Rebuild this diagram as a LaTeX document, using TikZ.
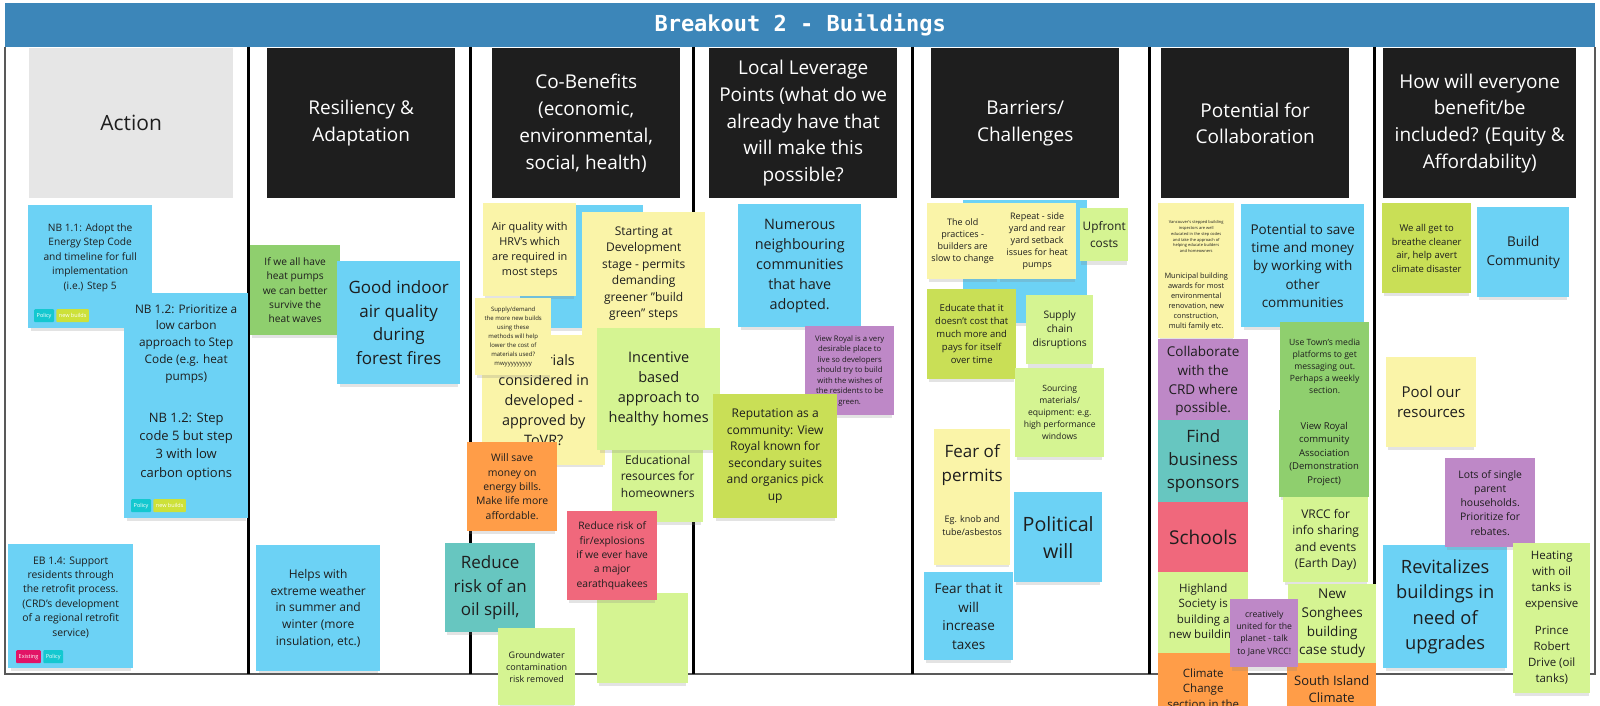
\documentclass[tikz,border=0pt]{standalone}
\usepackage{fontspec}
\setmainfont{Open Sans}
\newfontfamily\titlefont{DejaVu Sans Mono}
\usetikzlibrary{positioning, shadows}

\definecolor{boardblue}{RGB}{60,134,185}
\definecolor{headdark}{RGB}{30,30,30}
\definecolor{actiongray}{RGB}{230,230,230}
\definecolor{notetext}{RGB}{30,30,30}
\definecolor{nblue}{RGB}{108,210,245}
\definecolor{nyellow}{RGB}{250,244,168}
\definecolor{nlight}{RGB}{213,244,146}
\definecolor{nlime}{RGB}{201,223,86}
\definecolor{ngreen}{RGB}{143,207,110}
\definecolor{norange}{RGB}{255,157,72}
\definecolor{npink}{RGB}{240,104,124}
\definecolor{nviolet}{RGB}{190,136,199}
\definecolor{nteal}{RGB}{103,198,192}
\definecolor{tagteal}{RGB}{20,200,208}
\definecolor{taglime}{RGB}{205,225,57}
\definecolor{tagred}{RGB}{226,20,102}

\newcommand{\fsz}[2]{\fontsize{#1}{#2}\selectfont}

\begin{document}
\begin{tikzpicture}[x=1pt, y=-1pt,
    note/.style={fill=#1, anchor=north west, align=center, inner sep=1pt, text=notetext,
        drop shadow={shadow xshift=0pt, shadow yshift=-5pt, shadow scale=.96, opacity=.22}},
    tag/.style={fill=#1, anchor=north west, rounded corners=1pt, text=white, font=\fsz{5.5}{6},
        inner xsep=2.5pt, inner ysep=0pt, minimum height=13pt},
    colhead/.style={fill=headdark, anchor=north west, minimum width=188pt, minimum height=150pt,
        text=white, align=center, font=\fsz{19}{26.7}},
    divider/.style={line width=3pt, black},
    frame/.style={line width=1.4pt, black!65}]
        \useasboundingbox (0,0) rectangle (1600,706);
        \clip (0,0) rectangle (1600,706);

        % board
        \node[fill=boardblue, anchor=north west, minimum width=1590pt, minimum height=44pt,
            text=white, font=\titlefont\bfseries\fsz{22}{26}] (title) at (5,3) {Breakout 2 - Buildings};
        \draw[frame] (5,47) -- (5,674) -- (1595,674) -- (1595,47);
        \foreach \x in {248,470,693,912,1149,1374}
            \draw[divider] (\x,47) -- (\x,674);

        % column heads
        \node[colhead, fill=actiongray, text=notetext, minimum width=204pt, font=\fsz{21}{27}] (haction) at (29,48) {Action};
        \node[colhead] (hres) at (267,48) {Resiliency \&\\Adaptation};
        \node[colhead] (hcoben) at (492,48) {Co-Benefits\\(economic,\\environmental,\\social, health)};
        \node[colhead] (hlever) at (709,48) {Local Leverage\\Points (what do we\\already have that\\will make this\\possible?};
        \node[colhead] (hbarr) at (931,48) {Barriers/\\Challenges};
        \node[colhead] (hcollab) at (1161,48) {Potential for\\Collaboration};
        \node[colhead, minimum width=193pt] (hequity) at (1383,48) {How will everyone\\benefit/be\\included?  (Equity \&\\Affordability)};

        % Action
        \node[note=nblue, minimum width=124pt, minimum height=123pt] (nb11) at (28,205) {};
        \node[align=center, text=notetext, font=\fsz{10.2}{14.5}] (nb11txt) at ([yshift=9pt]nb11.center)
            {NB 1.1: Adopt the\\Energy Step Code\\and timeline for full\\implementation\\(i.e.) Step 5};
        \node[tag=tagteal] (nb11pol) at (34,309) {Policy};
        \node[tag=taglime, right=2pt of nb11pol] (nb11new) {new builds};
        \node[note=nblue, minimum width=124pt, minimum height=101pt, font=\fsz{11.8}{16.7}] (nb12) at (124,293)
            {NB 1.2: Prioritize a\\low carbon\\approach to Step\\Code (e.g. heat\\pumps)};
        \node[note=nblue, minimum width=124pt, minimum height=124pt] (nb12s) at (124,394) {};
        \node[align=center, text=notetext, font=\fsz{13}{18.3}] (nb12stxt) at ([yshift=9.5pt]nb12s.center)
            {NB 1.2: Step\\code 5 but step\\3 with low\\carbon options};
        \node[tag=tagteal] (nb12spol) at (131,499) {Policy};
        \node[tag=taglime, right=2pt of nb12spol] (nb12snew) {new builds};
        \node[note=nblue, minimum width=125pt, minimum height=124pt] (eb14) at (8,544) {};
        \node[align=center, text=notetext, font=\fsz{10.4}{14.4}] (eb14txt) at ([yshift=9pt]eb14.center)
            {EB 1.4: Support\\residents through\\the retrofit process.\\(CRD's development\\of a regional retrofit\\service)};
        \node[tag=tagred] (eb14ex) at (16,650) {Existing};
        \node[tag=tagteal, right=2pt of eb14ex] (eb14pol) {Policy};

        % Resiliency
        \node[note=ngreen, minimum width=90pt, minimum height=90pt, font=\fsz{10.2}{14.3}] (heatpump) at (250,245)
            {If we all have\\heat pumps\\we can better\\survive the\\heat waves};
        \node[note=nblue, minimum width=123pt, minimum height=123pt, font=\fsz{17}{23.5}] (indoorair) at (337,261)
            {Good indoor\\air quality\\during\\forest fires};
        \node[note=nblue, minimum width=124pt, minimum height=126pt, font=\fsz{12}{16.7}] (weather) at (256,545)
            {Helps with\\extreme weather\\in summer and\\winter (more\\insulation, etc.)};

        % Co-Benefits
        \node[note=nblue, minimum width=123pt, minimum height=123pt] (cbblue) at (520,205) {};
        \node[note=nyellow, minimum width=93pt, minimum height=93pt, font=\fsz{10.9}{15}] (airq) at (483,203)
            {Air quality with\\HRV's which\\are required in\\most steps};
        \node[note=nyellow, minimum width=123pt, minimum height=123pt, font=\fsz{12}{16.5}] (starting) at (582,212)
            {Starting at\\Development\\stage - permits\\demanding\\greener "build\\green" steps};
        \node[note=nyellow, minimum width=123pt, minimum height=130pt, font=\fsz{14.4}{20}] (materials) at (482,335)
            {Materials\\considered in\\developed -\\approved by\\ToVR?};
        \node[note=nyellow, minimum width=76pt, minimum height=77pt, font=\fsz{6}{9}] (supply) at (475,298)
            {Supply/demand\\the more new builds\\using these\\methods will help\\lower the cost of\\materials used?\\mwyyyyyyyyy};
        \node[note=nlight, minimum width=91pt, minimum height=92pt, font=\fsz{12}{16.3}] (educational) at (612,430)
            {Educational\\resources for\\homeowners};
        \node[note=nlight, minimum width=123pt, minimum height=122pt, font=\fsz{14.5}{20}] (incentive) at (597,328)
            {Incentive\\based\\approach to\\healthy homes};
        \node[note=norange, minimum width=90pt, minimum height=89pt, font=\fsz{10.4}{14.3}] (willsave) at (467,442)
            {Will save\\money on\\energy bills.\\Make life more\\affordable.};
        \node[note=nteal, minimum width=90pt, minimum height=89pt, font=\fsz{17}{23.3}] (oilspill) at (445,543)
            {Reduce\\risk of an\\oil spill,};
        \node[note=nlight, minimum width=77pt, minimum height=77pt, font=\fsz{9}{12}] (groundwater) at (498,628)
            {Groundwater\\contamination\\risk removed};
        \node[note=nlight, minimum width=91pt, minimum height=90pt] (blank) at (597,593) {};
        \node[note=npink, minimum width=90pt, minimum height=89pt, font=\fsz{10.3}{14.3}] (firrisk) at (567,511)
            {Reduce risk of\\fir/explosions\\if we ever have\\a major\\earathquakees};

        % Local Leverage
        \node[note=nblue, minimum width=123pt, minimum height=123pt, font=\fsz{14.4}{20}] (numerous) at (738,204)
            {Numerous\\neighbouring\\communities\\that have\\adopted.};
        \node[note=nviolet, minimum width=89pt, minimum height=89pt, font=\fsz{7.7}{10.5}] (viewroyal) at (805,326)
            {View Royal is a very\\desirable place to\\live so developers\\should try to build\\with the wishes of\\the residents to be\\green.};
        \node[note=nlime, minimum width=124pt, minimum height=124pt, font=\fsz{12}{16.5}] (reputation) at (713,394)
            {Reputation as a\\community: View\\Royal known for\\secondary suites\\and organics pick\\up};

        % Barriers
        \node[note=nblue, minimum width=124pt, minimum height=123pt] (barblue) at (963,200) {};
        \node[note=nyellow, minimum width=71pt, minimum height=76pt, font=\fsz{9}{12.3}] (oldpract) at (927,203)
            {The old\\practices -\\builders are\\slow to change};
        \node[note=nyellow, minimum width=78pt, minimum height=76pt, font=\fsz{9}{12}] (repeat) at (998,203)
            {Repeat - side\\yard and rear\\yard setback\\issues for heat\\pumps};
        \node[note=nlight, minimum width=48pt, minimum height=53pt, font=\fsz{11.8}{17}] (upfront) at (1080,208)
            {Upfront\\costs};
        \node[note=nlime, minimum width=89pt, minimum height=90pt, font=\fsz{9.5}{13}] (educate) at (927,289)
            {Educate that it\\doesn't cost that\\much more and\\pays for itself\\over time};
        \node[note=nlight, minimum width=67pt, minimum height=69pt, font=\fsz{10.3}{14}] (supplych) at (1026,295)
            {Supply\\chain\\disruptions};
        \node[note=nlight, minimum width=89pt, minimum height=89pt, font=\fsz{8.6}{12}] (sourcing) at (1015,368)
            {Sourcing\\materials/\\equipment: e.g.\\high performance\\windows};
        \node[note=nyellow, minimum width=76pt, minimum height=136pt] (fearpermit) at (934,429) {};
        \node[align=center, text=notetext, font=\fsz{17}{24}] (fearpermittxt) at ([yshift=32pt]fearpermit.center)
            {Fear of\\permits};
        \node[align=center, text=notetext, font=\fsz{9}{12.3}] (knobtxt) at ([yshift=-28.5pt]fearpermit.center)
            {Eg. knob and\\tube/asbestos};
        \node[note=nblue, minimum width=88pt, minimum height=90pt, font=\fsz{19.7}{27}] (political) at (1014,492)
            {Political\\will};
        \node[note=nblue, minimum width=89pt, minimum height=88pt, font=\fsz{13.5}{18.5}] (feartax) at (924,572)
            {Fear that it\\will\\increase\\taxes};

        % Collaboration
        \node[note=nyellow, minimum width=76pt, minimum height=67pt, font=\fsz{4}{5.8}] (vancouver) at (1158,203)
            {Vancouver's stepped building\\inspectors are well\\educated in the step codes\\and take the approach of\\helping educate builders\\and homeowners};
        \node[note=nyellow, minimum width=76pt, minimum height=73pt, font=\fsz{7.4}{10}] (municipal) at (1158,265)
            {Municipal building\\awards for most\\environmental\\renovation, new\\construction,\\multi family etc.};
        \node[note=nblue, minimum width=123pt, minimum height=123pt, font=\fsz{13.5}{18.3}] (potential) at (1241,204)
            {Potential to save\\time and money\\by working with\\other\\communities};
        \node[note=ngreen, minimum width=89pt, minimum height=88pt, font=\fsz{8.6}{12}] (usetown) at (1280,322)
            {Use Town's media\\platforms to get\\messaging out.\\Perhaps a weekly\\section.};
        \node[note=nviolet, minimum width=90pt, minimum height=84pt, font=\fsz{13.5}{18.7}] (collab) at (1158,339)
            {Collaborate\\with the\\CRD where\\possible.};
        \node[note=nteal, minimum width=90pt, minimum height=82pt, font=\fsz{17}{23.3}] (findbiz) at (1158,420)
            {Find\\business\\sponsors};
        \node[note=npink, minimum width=90pt, minimum height=70pt, font=\fsz{19}{24}] (schools) at (1158,502)
            {Schools};
        \node[note=nlight, minimum width=90pt, minimum height=81pt, font=\fsz{11.5}{15.5}] (highland) at (1158,572)
            {Highland\\Society is\\building a\\new building};
        \node[note=norange, minimum width=90pt, minimum height=70pt, font=\fsz{11.5}{15.5}] (climate) at (1158,653)
            {Climate\\Change\\section in the};
        \node[note=ngreen, minimum width=90pt, minimum height=87pt, font=\fsz{9.5}{13.5}] (vrcomm) at (1279,410)
            {View Royal\\community\\Association\\(Demonstration\\Project)};
        \node[note=nlight, minimum width=85pt, minimum height=85pt, font=\fsz{12}{16.5}] (vrcc) at (1283,497)
            {VRCC for\\info sharing\\and events\\(Earth Day)};
        \node[note=nlight, minimum width=88pt, minimum height=79pt, font=\fsz{13.5}{18.7}] (songhees) at (1288,584)
            {New\\Songhees\\building\\case study};
        \node[note=norange, minimum width=89pt, minimum height=52pt, font=\fsz{13}{17.7}] (southisl) at (1287,663)
            {South Island\\Climate};
        \node[note=nviolet, minimum width=68pt, minimum height=68pt, font=\fsz{8.7}{12.3}] (creatively) at (1230,599)
            {creatively\\united for the\\planet - talk\\to Jane VRCC!};

        % Equity
        \node[note=nlime, minimum width=89pt, minimum height=90pt, font=\fsz{9.5}{13.5}] (weall) at (1382,203)
            {We all get to\\breathe cleaner\\air, help avert\\climate disaster};
        \node[note=nblue, minimum width=92pt, minimum height=90pt, font=\fsz{13.5}{19}] (build) at (1477,207)
            {Build\\Community};
        \node[note=nyellow, minimum width=90pt, minimum height=90pt, font=\fsz{15}{20.3}] (pool) at (1386,357)
            {Pool our\\resources};
        \node[note=nblue, minimum width=124pt, minimum height=123pt, font=\fsz{18.3}{25.3}] (revital) at (1383,545)
            {Revitalizes\\buildings in\\need of\\upgrades};
        \node[note=nviolet, minimum width=90pt, minimum height=89pt, font=\fsz{10.4}{14.3}] (lots) at (1445,458)
            {Lots of single\\parent\\households.\\Prioritize for\\rebates.};
        \node[note=nlight, minimum width=77pt, minimum height=74pt, font=\fsz{11.5}{16}] (heating) at (1513,543)
            {Heating\\with oil\\tanks is\\expensive};
        \node[note=nlight, minimum width=77pt, minimum height=76pt, font=\fsz{11.5}{16}] (prince) at (1513,617)
            {Prince\\Robert\\Drive (oil\\tanks)};
    \end{tikzpicture}
\end{document}
